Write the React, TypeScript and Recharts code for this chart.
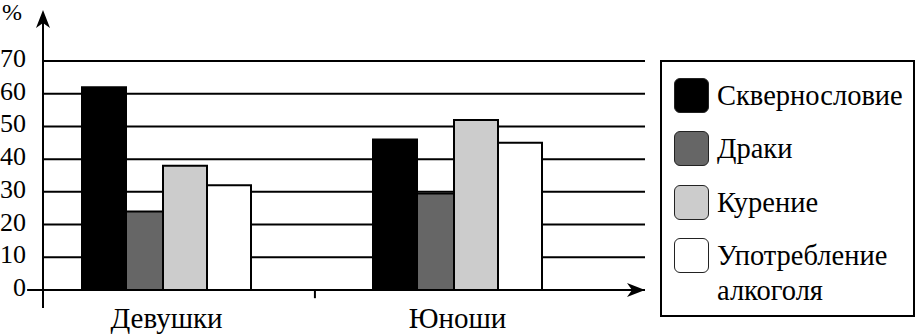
import React from 'react';
import { BarChart, Bar, XAxis, YAxis, CartesianGrid, ReferenceLine } from 'recharts';

const FONT = '"Liberation Serif"';

// Categories and their positions on the numeric x axis
const groups = ['Девушки', 'Юноши'];
const groupPositions = [0, 1];

// Series (percent)
const seriesNames = ['Сквернословие', 'Драки', 'Курение', 'Употребление алкоголя'];
const swearing = [62, 46];
const fights = [24, 29.5];
const smoking = [38, 52];
const alcohol = [32, 45];

const seriesColors = ['#000000', '#666666', '#cccccc', '#ffffff'];
const barSizes = [44, 37, 44, 44];

const yTicks = [0, 10, 20, 30, 40, 50, 60, 70];
const yUnit = '%';
const yDomain = [-5.5, 85.6];
const xDomain = [-0.4244, 1.6443];
const xAxisStart = -0.479;
const boundaryTick = 0.51;

const seriesValues = [swearing, fights, smoking, alcohol];
const keys = ['s0', 's1', 's2', 's3'];

const data = groups.map((g, i) => {
  const row: any = { x: groupPositions[i], name: g };
  keys.forEach((k, j) => {
    row[k] = seriesValues[j][i];
  });
  return row;
});

const Arrow = (props: any) => {
  const { x1, y1, x2, y2 } = props;
  if ([x1, y1, x2, y2].some((v) => typeof v !== 'number' || isNaN(v))) return null;
  const dx = x2 - x1;
  const dy = y2 - y1;
  const len = Math.sqrt(dx * dx + dy * dy) || 1;
  const ux = dx / len;
  const uy = dy / len;
  const px = -uy;
  const py = ux;
  const L = 18;
  const W = 7;
  const notch = 13;
  const bx = x2 - ux * L;
  const by = y2 - uy * L;
  const nx = x2 - ux * notch;
  const ny = y2 - uy * notch;
  const pts = `${x2},${y2} ${bx + px * W},${by + py * W} ${nx},${ny} ${bx - px * W},${by - py * W}`;
  return (
    <g>
      <line x1={x1} y1={y1} x2={nx} y2={ny} stroke="#000" strokeWidth={2} />
      <polygon points={pts} fill="#000" stroke="none" />
    </g>
  );
};

const PlainLine = (props: any) => {
  const { x1, y1, x2, y2 } = props;
  if ([x1, y1, x2, y2].some((v) => typeof v !== 'number' || isNaN(v))) return null;
  return <line x1={x1} y1={y1} x2={x2} y2={y2} stroke="#000" strokeWidth={2} />;
};

const YTick = (props: any) => {
  const { x, y, payload } = props;
  return (
    <text x={x - 9} y={y + 6} textAnchor="end" fontFamily={FONT} fontSize={26} fill="#000">
      {payload.value}
    </text>
  );
};

const XTick = (props: any) => {
  const { x, y, payload } = props;
  const idx = groupPositions.indexOf(payload.value);
  return (
    <text x={x} y={y + 20} textAnchor="middle" fontFamily={FONT} fontSize={29} fill="#000">
      {idx >= 0 ? groups[idx] : ''}
    </text>
  );
};

const LegendBox = () => (
  <div
    style={{
      position: 'absolute',
      left: 660,
      top: 60,
      width: 255,
      height: 257,
      border: '2px solid #000',
      boxSizing: 'border-box',
      background: '#fff',
      fontFamily: FONT,
    }}
  >
    {seriesNames.map((n, i) => (
      <React.Fragment key={n}>
        <div
          style={{
            position: 'absolute',
            left: 12,
            top: 16 + i * 53.3,
            width: 35,
            height: 35,
            borderRadius: 6,
            background: seriesColors[i],
            border: '1.5px solid #222',
            boxSizing: 'border-box',
          }}
        />
        <div
          style={{
            position: 'absolute',
            left: 55,
            top: 16 + i * 53.3,
            width: 194,
            fontSize: 28.5,
            lineHeight: '35px',
            color: '#000',
            fontFamily: FONT,
          }}
        >
          {n}
        </div>
      </React.Fragment>
    ))}
  </div>
);

export default function App() {
  return (
    <div style={{ position: 'absolute', left: 0, top: 0, width: 920, height: 335, background: '#fff' }}>
      <BarChart
        width={920}
        height={335}
        data={data}
        margin={{ top: 10, right: 275, bottom: 0, left: 0 }}
        barGap={0}
      >
        <CartesianGrid vertical={false} horizontalValues={yTicks} stroke="#000" strokeWidth={2} />
        <XAxis
          type="number"
          dataKey="x"
          domain={xDomain}
          allowDataOverflow
          ticks={groupPositions}
          axisLine={false}
          tickLine={false}
          tickSize={0}
          tickMargin={0}
          height={27}
          tick={<XTick />}
          interval={0}
        />
        <YAxis
          type="number"
          domain={yDomain}
          allowDataOverflow
          ticks={yTicks}
          axisLine={false}
          tickLine={false}
          width={43}
          tick={<YTick />}
          interval={0}
        />
        {keys.map((k, j) => (
          <Bar
            key={k}
            dataKey={k}
            name={seriesNames[j]}
            fill={seriesColors[j]}
            stroke="#000"
            strokeWidth={2}
            barSize={barSizes[j]}
            isAnimationActive={false}
          />
        ))}
        <ReferenceLine
          segment={[
            { x: xDomain[0], y: yDomain[0] },
            { x: xDomain[0], y: yDomain[1] },
          ]}
          ifOverflow="visible"
          shape={<Arrow />}
        />
        <ReferenceLine
          segment={[
            { x: xAxisStart, y: 0 },
            { x: xDomain[1], y: 0 },
          ]}
          ifOverflow="visible"
          shape={<Arrow />}
        />
        <ReferenceLine
          segment={[
            { x: boundaryTick, y: 0 },
            { x: boundaryTick, y: -2.5 },
          ]}
          ifOverflow="visible"
          shape={<PlainLine />}
        />
      </BarChart>
      <svg width={30} height={26} style={{ position: 'absolute', left: 0, top: 0 }}>
        <text x={2} y={20} fontFamily={FONT} fontSize={24} fill="#000">
          {yUnit}
        </text>
      </svg>
      <LegendBox />
    </div>
  );
}
